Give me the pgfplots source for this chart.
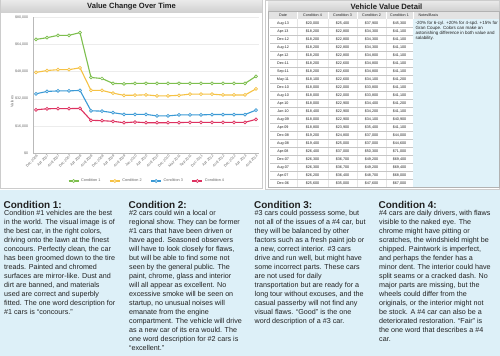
\documentclass[border=0pt]{standalone}
\usepackage{fontspec}
\setmainfont{Liberation Sans}
\usepackage{pgfplots}
\pgfplotsset{compat=1.18}
\definecolor{cA}{HTML}{7DBF4E}
\definecolor{cB}{HTML}{F6C244}
\definecolor{cC}{HTML}{3B9AD6}
\definecolor{cD}{HTML}{DE3160}
\definecolor{bgblue}{HTML}{DDF0F8}
\definecolor{notesblue}{HTML}{E0F2F9}
\definecolor{txt}{HTML}{222222}
\newcommand\tabfont{\fontsize{3.7}{4.4}\selectfont}
\newcommand\btext{\fontsize{7.2}{9}\selectfont}
\newcommand\trow[6]{%
  \draw[gray!45,line width=0.4bp] (270,{19.3+8*(#1+1)}) -- (413,{19.3+8*(#1+1)});
  \node[font=\tabfont,text=txt] at (283,{23.3+8*#1}) {#2};
  \node[font=\tabfont,text=txt] at (312.5,{23.3+8*#1}) {\$#3};
  \node[font=\tabfont,text=txt] at (342.5,{23.3+8*#1}) {\$#4};
  \node[font=\tabfont,text=txt] at (371.5,{23.3+8*#1}) {\$#5};
  \node[font=\tabfont,text=txt] at (399.5,{23.3+8*#1}) {\$#6};
}
\begin{document}
\begin{tikzpicture}
\path[use as bounding box] (0bp,0bp) rectangle (500bp,356bp);
\begin{scope}[x=1bp,y=-1bp,yshift=356bp]
  % bottom blue area
  \fill[bgblue] (0,190) rectangle (500,356);
  % chart panel
  \draw[gray!40,fill=white,line width=0.5bp] (0.5,0.5) rectangle (262.5,188.5);
  \shade[top color=gray!18,bottom color=gray!38] (1,1) rectangle (262,13);
  \node[font=\bfseries\fontsize{7.6}{9}\selectfont,text=txt] at (131.5,7) {Value Change Over Time};
  % table panel
  \draw[gray!40,fill=white,line width=0.5bp] (265.5,0.5) rectangle (499.5,189.5);
  \shade[top color=gray!18,bottom color=gray!38] (268,1.5) rectangle (499,11.7);
  \node[font=\bfseries\fontsize{7.7}{9}\selectfont,text=txt] at (386.5,6.6) {Vehicle Value Detail};
  % header row
  \fill[gray!22] (268,11.7) rectangle (499,19.3);
  \foreach \xx in {297,328,357,386,413}
    \draw[white,line width=0.8bp] (\xx,11.7) -- (\xx,19.3);
  \node[font=\tabfont,text=txt] at (283,15.5) {Date};
  \node[font=\tabfont,text=txt] at (312.5,15.5) {Condition 4};
  \node[font=\tabfont,text=txt] at (342.5,15.5) {Condition 3};
  \node[font=\tabfont,text=txt] at (371.5,15.5) {Condition 2};
  \node[font=\tabfont,text=txt] at (399.5,15.5) {Condition 1};
  \node[font=\tabfont,text=txt,anchor=west] at (415,15.5) {Notes/Basis};
  % notes cell
  \fill[notesblue] (413,19.3) rectangle (499,187.3);
  \foreach \l [count=\i from 0] in {{-20\% for 6-cyl. +20\% for 4-spd. +15\% for},{Gran Coupe. Colors can make an},{astonishing difference in both value and},{salability.}}
    \node[anchor=base west,inner sep=0,font=\fontsize{4.5}{5}\selectfont,text=txt] at (415.5,{24.5+5*\i}) {\l};
  \foreach \xx in {297,328,357,386}
    \draw[gray!20,line width=0.4bp] (\xx,19.3) -- (\xx,187.3);
  \trow{0}{Aug-13}{20,000}{25,400}{37,900}{45,300}
  \trow{1}{Apr-13}{18,200}{22,800}{34,300}{41,100}
  \trow{2}{Dec-12}{18,200}{22,800}{34,300}{41,100}
  \trow{3}{Aug-12}{18,200}{22,800}{34,300}{41,100}
  \trow{4}{Apr-12}{18,200}{22,800}{34,800}{41,100}
  \trow{5}{Dec-11}{18,200}{22,600}{34,800}{41,100}
  \trow{6}{Sep-11}{18,200}{22,600}{34,800}{41,100}
  \trow{7}{May-11}{18,100}{22,600}{34,100}{41,200}
  \trow{8}{Dec-10}{18,000}{22,000}{33,800}{41,100}
  \trow{9}{Aug-10}{18,000}{22,000}{33,800}{41,100}
  \trow{10}{Apr-10}{18,000}{22,900}{34,400}{41,200}
  \trow{11}{Jan-10}{18,400}{22,900}{34,200}{41,100}
  \trow{12}{Aug-09}{18,000}{22,900}{34,100}{40,900}
  \trow{13}{Apr-09}{18,800}{23,900}{35,400}{41,100}
  \trow{14}{Dec-08}{19,200}{24,800}{37,000}{44,000}
  \trow{15}{Aug-08}{19,400}{25,000}{37,000}{44,600}
  \trow{16}{Apr-08}{26,400}{37,000}{50,300}{71,000}
  \trow{17}{Dec-07}{26,300}{36,700}{49,200}{69,400}
  \trow{18}{Aug-07}{26,300}{36,700}{49,200}{69,400}
  \trow{19}{Apr-07}{26,200}{36,400}{48,700}{68,000}
  \trow{20}{Dec-06}{25,600}{35,000}{47,600}{67,000}
  \draw[gray!60,line width=0.5bp] (268,11.7) rectangle (499,187.3);
  % bottom texts
  \foreach \h/\xx in {Condition 1:/3.5, Condition 2:/128.5, Condition 3:/254, Condition 4:/378.5}
    \node[anchor=base west,inner sep=0,font=\bfseries\fontsize{10}{12}\selectfont,text=txt] at (\xx,208.6) {\h};
  \foreach \l [count=\i from 0] in {{Condition \#1 vehicles are the best},{in the world. The visual image is of},{the best car, in the right colors,},{driving onto the lawn at the finest},{concours. Perfectly clean, the car},{has been groomed down to the tire},{treads. Painted and chromed},{surfaces are mirror-like. Dust and},{dirt are banned, and materials},{used are correct and superbly},{fitted. The one word description for},{\#1 cars is “concours.”}}
    \node[anchor=base west,inner sep=0,font=\btext,text=txt] at (4,{215.5+9*\i}) {\l};
  \foreach \l [count=\i from 0] in {{\#2 cars could win a local or},{regional show. They can be former},{\#1 cars that have been driven or},{have aged. Seasoned observers},{will have to look closely for flaws,},{but will be able to find some not},{seen by the general public. The},{paint, chrome, glass and interior},{will all appear as excellent. No},{excessive smoke will be seen on},{startup, no unusual noises will},{emanate from the engine},{compartment. The vehicle will drive},{as a new car of its era would. The},{one word description for \#2 cars is},{“excellent.”}}
    \node[anchor=base west,inner sep=0,font=\btext,text=txt] at (129,{215.5+9*\i}) {\l};
  \foreach \l [count=\i from 0] in {{\#3 cars could possess some, but},{not all of the issues of a \#4 car, but},{they will be balanced by other},{factors such as a fresh paint job or},{a new, correct interior. \#3 cars},{drive and run well, but might have},{some incorrect parts. These cars},{are not used for daily},{transportation but are ready for a},{long tour without excuses, and the},{casual passerby will not find any},{visual flaws. “Good” is the one},{word description of a \#3 car.}}
    \node[anchor=base west,inner sep=0,font=\btext,text=txt] at (254.5,{215.5+9*\i}) {\l};
  \foreach \l [count=\i from 0] in {{\#4 cars are daily drivers, with flaws},{visible to the naked eye. The},{chrome might have pitting or},{scratches, the windshield might be},{chipped. Paintwork is imperfect,},{and perhaps the fender has a},{minor dent. The interior could have},{split seams or a cracked dash. No},{major parts are missing, but the},{wheels could differ from the},{originals, or the interior might not},{be stock. A \#4 car can also be a},{deteriorated restoration. “Fair” is},{the one word that describes a \#4},{car.}}
    \node[anchor=base west,inner sep=0,font=\btext,text=txt] at (379,{215.5+9*\i}) {\l};
\end{scope}
\begin{axis}[
  at={(33.25bp,202.7bp)}, anchor=south west,
  scale only axis, width=225.5bp, height=136bp,
  xmin=-0.25, xmax=20.25, ymin=0, ymax=80000,
  axis x line*=bottom, axis y line*=left,
  axis line style={draw=gray!55,-},
  major tick length=0pt,
  scaled y ticks=false,
  xtick={0,...,20},
  xticklabels={Dec 2006,Apr 2007,Aug 2007,Dec 2007,Apr 2008,Aug 2008,Dec 2008,Apr 2009,Aug 2009,Jan 2010,Apr 2010,Aug 2010,Dec 2010,May 2011,Sep 2011,Dec 2011,Apr 2012,Aug 2012,Dec 2012,Apr 2013,Aug 2013},
  xticklabel style={rotate=45,anchor=east,font=\fontsize{3.6}{4}\selectfont,text=gray!80!black,inner sep=0pt,yshift=-2.5bp,xshift=-0.5bp},
  ytick={0,16000,32000,48000,64000,80000},
  yticklabels={{\$0},{\$16,000},{\$32,000},{\$48,000},{\$64,000},{\$80,000}},
  yticklabel style={font=\fontsize{3.6}{4}\selectfont,text=gray!80!black,inner sep=0pt,xshift=-5bp},
  ymajorgrids, grid style={gray!15,line width=0.5bp},
  ylabel={Values},
  ylabel style={at={(axis description cs:-0.094,0.38)},anchor=center,font=\fontsize{3.8}{4}\selectfont,text=gray!80!black},
  legend columns=4,
  legend style={at={(axis description cs:0.505,-0.204)},anchor=center,draw=none,fill=none,font=\fontsize{3.8}{4}\selectfont,text=gray!80!black,
    /tikz/every even column/.append style={column sep=7bp},inner sep=0pt},
  legend image code/.code={\draw[mark repeat=2,mark phase=2,#1] plot coordinates {(0bp,0bp) (5bp,0bp) (10bp,0bp)};},
  every axis plot/.append style={line width=1.1bp,mark=*,mark size=1.5bp,mark options={fill=white,line width=0.7bp}},
  clip=false,
]
\addplot[cA] coordinates {(0,67000)(1,68000)(2,69400)(3,69400)(4,71000)(5,44600)(6,44000)(7,41100)(8,40900)(9,41100)(10,41200)(11,41100)(12,41100)(13,41200)(14,41100)(15,41100)(16,41100)(17,41100)(18,41100)(19,41100)(20,45300)};
\addlegendentry{Condition 1}
\addplot[cB] coordinates {(0,47600)(1,48700)(2,49200)(3,49200)(4,50300)(5,37000)(6,37000)(7,35400)(8,34100)(9,34200)(10,34400)(11,33800)(12,33800)(13,34100)(14,34800)(15,34800)(16,34800)(17,34300)(18,34300)(19,34300)(20,37900)};
\addlegendentry{Condition 2}
\addplot[cC] coordinates {(0,35000)(1,36400)(2,36700)(3,36700)(4,37000)(5,25000)(6,24800)(7,23900)(8,22900)(9,22900)(10,22900)(11,22000)(12,22000)(13,22600)(14,22600)(15,22600)(16,22800)(17,22800)(18,22800)(19,22800)(20,25400)};
\addlegendentry{Condition 3}
\addplot[cD] coordinates {(0,25600)(1,26200)(2,26300)(3,26300)(4,26400)(5,19400)(6,19200)(7,18800)(8,18000)(9,18400)(10,18000)(11,18000)(12,18000)(13,18100)(14,18200)(15,18200)(16,18200)(17,18200)(18,18200)(19,18200)(20,20000)};
\addlegendentry{Condition 4}
\end{axis}
\end{tikzpicture}%
\end{document}
